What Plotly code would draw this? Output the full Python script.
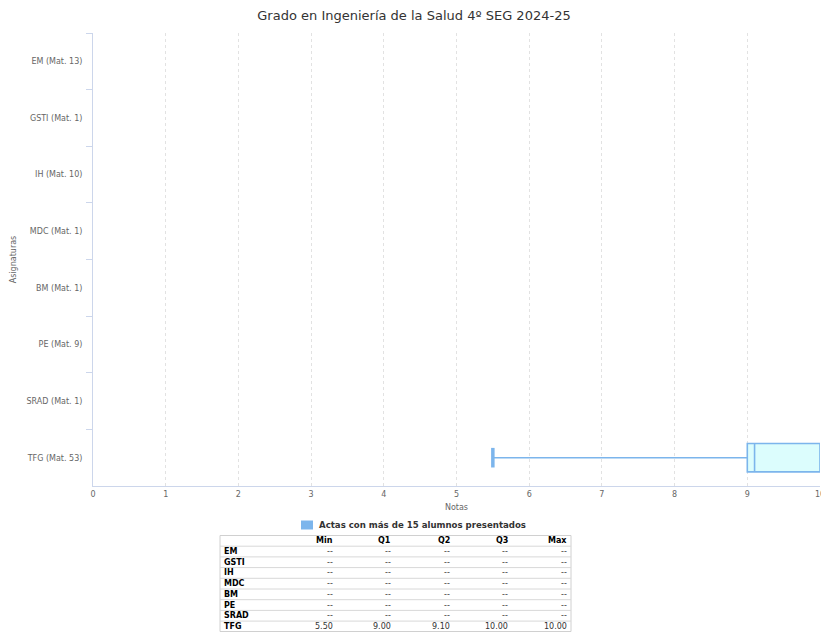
import plotly.graph_objects as go

title = "Grado en Ingeniería de la Salud 4º SEG 2024-25"
subjects = ["EM", "GSTI", "IH", "MDC", "BM", "PE", "SRAD", "TFG"]
enrolled = [13, 1, 10, 1, 1, 9, 1, 53]
mins = [None, None, None, None, None, None, None, 5.50]
q1s = [None, None, None, None, None, None, None, 9.00]
q2s = [None, None, None, None, None, None, None, 9.10]
q3s = [None, None, None, None, None, None, None, 10.00]
maxs = [None, None, None, None, None, None, None, 10.00]
x_ticks = [0, 1, 2, 3, 4, 5, 6, 7, 8, 9, 10]
table_headers = ["Min", "Q1", "Q2", "Q3", "Max"]
legend_name = "Actas con más de 15 alumnos presentados"

labels = [f"{s} (Mat. {n})" for s, n in zip(subjects, enrolled)]
idx = [i for i, v in enumerate(mins) if v is not None]

FONT = "DejaVu Sans"
BLUE = "#7cb5ec"
W, H = 821, 632
ML, MR, MT = 93, 1, 33
plot_w = W - ML - MR
plot_h = H - MT
def px_x(x):
    return (x - ML) / plot_w
def px_y(y):
    return (H - y) / plot_h

fig = go.Figure()
fig.add_trace(go.Box(
    y=[labels[i] for i in idx],
    lowerfence=[mins[i] for i in idx],
    q1=[q1s[i] for i in idx],
    median=[q2s[i] for i in idx],
    q3=[q3s[i] for i in idx],
    upperfence=[maxs[i] for i in idx],
    orientation="h",
    width=0.5,
    whiskerwidth=0.5,
    fillcolor="#dcfdfd",
    line=dict(color=BLUE, width=1.6),
    showlegend=False,
    hoverinfo="x",
    name=legend_name,
))
# thick whisker cap at the minimum
fig.add_trace(go.Scatter(
    x=[mins[i] for i in idx], y=[labels[i] for i in idx], mode="markers",
    marker=dict(symbol="line-ns", size=14, line=dict(color=BLUE, width=3.5)),
    showlegend=False, hoverinfo="skip",
))

shapes = []
annotations = []

# Legend (drawn manually to match spacing)
shapes.append(dict(type="rect", xref="paper", yref="paper",
                   x0=px_x(301), x1=px_x(313), y0=px_y(529.5), y1=px_y(520.5),
                   fillcolor=BLUE, line=dict(width=0)))
annotations.append(dict(text=f"<b>{legend_name}</b>", xref="paper", yref="paper",
                        x=px_x(317), y=px_y(525), xanchor="left", yanchor="middle",
                        showarrow=False, font=dict(family=FONT, size=8.6, color="#333333")))

# Table
def fmt(v):
    return "--" if v is None else f"{v:.2f}"

tx0, tx1 = 220, 571
ty0 = 535.5
rh = 10.7
col_right = [335, 393, 452, 510, 569]
n_rows = len(subjects) + 1
ty1 = ty0 + n_rows * rh
shapes.append(dict(type="rect", xref="paper", yref="paper",
                   x0=px_x(tx0), x1=px_x(tx1), y0=px_y(ty0), y1=px_y(min(ty1, 631.5)),
                   line=dict(color="#d0d0d0", width=1), fillcolor="rgba(0,0,0,0)"))
for r in range(1, n_rows):
    yy = ty0 + r * rh
    shapes.append(dict(type="line", xref="paper", yref="paper",
                       x0=px_x(tx0), x1=px_x(tx1), y0=px_y(yy), y1=px_y(yy),
                       line=dict(color="#d8d8d8", width=1)))

for c, h in enumerate(table_headers):
    annotations.append(dict(text=f"<b>{h}</b>", xref="paper", yref="paper",
                            x=px_x(col_right[c]), y=px_y(ty0 + rh / 2), xanchor="right", yanchor="middle",
                            showarrow=False, font=dict(family=FONT, size=8, color="#000000")))
cols = [mins, q1s, q2s, q3s, maxs]
for r, s in enumerate(subjects):
    yc = px_y(ty0 + (r + 1.5) * rh)
    annotations.append(dict(text=f"<b>{s}</b>", xref="paper", yref="paper",
                            x=px_x(222), y=yc, xanchor="left", yanchor="middle",
                            showarrow=False, font=dict(family=FONT, size=8, color="#000000")))
    for c, col in enumerate(cols):
        annotations.append(dict(text=fmt(col[r]), xref="paper", yref="paper",
                                x=px_x(col_right[c]), y=yc, xanchor="right", yanchor="middle",
                                showarrow=False, font=dict(family=FONT, size=8, color="#333333")))

fig.update_layout(
    width=W, height=H,
    margin=dict(l=ML, r=MR, t=MT, b=0, pad=0),
    paper_bgcolor="white", plot_bgcolor="white",
    font=dict(family=FONT, size=8, color="#666666"),
    title=dict(text=title, x=414 / W, xanchor="center", y=1 - 15 / H, yanchor="middle",
               font=dict(family=FONT, size=13, color="#333333")),
    showlegend=False,
    shapes=shapes,
    annotations=annotations,
    xaxis=dict(
        domain=[0, 1], range=[0, 10], tickvals=x_ticks, showgrid=True, automargin=False,
        ticklabeloverflow="allow",
        gridcolor="#e2e2e2", griddash="3px,3px", gridwidth=1,
        showline=True, linecolor="#ccd6eb", linewidth=1, zeroline=False,
        ticks="", tickfont=dict(size=8, color="#666666"),
        title=dict(text="Notas", font=dict(size=8, color="#666666"), standoff=6),
    ),
    yaxis=dict(
        domain=[px_y(486), 1], type="category", categoryorder="array", categoryarray=labels,
        range=[len(labels) - 0.5, -0.5], showgrid=False, automargin=False,
        showline=True, linecolor="#ccd6eb", linewidth=1, zeroline=False,
        ticks="outside", tickson="boundaries", ticklen=6, tickcolor="#ccd6eb",
        tickfont=dict(size=8, color="#666666"), ticklabelstandoff=8,
        title=dict(text="Asignaturas", font=dict(size=8, color="#666666"), standoff=8),
    ),
)

fig.write_html("out.html", config={"displayModeBar": False},
               post_script="document.body.style.margin='0';")
